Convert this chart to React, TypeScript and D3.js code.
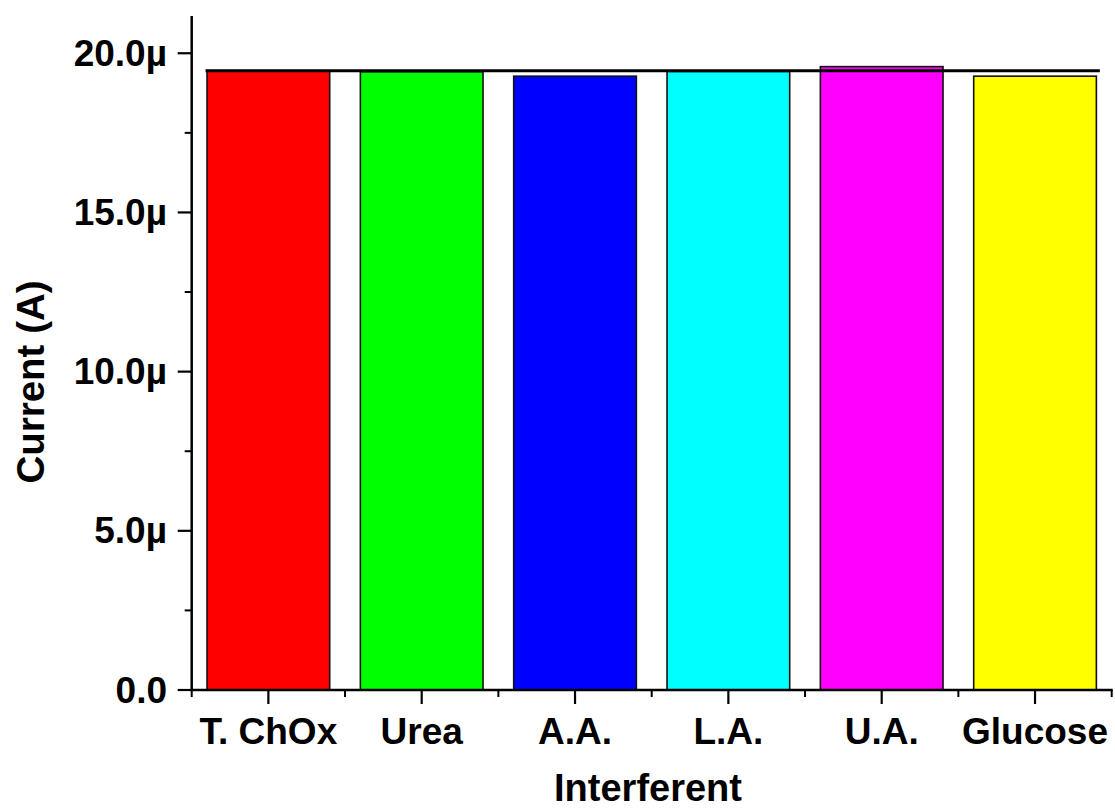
import React from 'react';
import * as d3 from 'd3';

// interferent study: response current for each species
const categories = ['T. ChOx', 'Urea', 'A.A.', 'L.A.', 'U.A.', 'Glucose'];
const currents = [19.45, 19.42, 19.28, 19.43, 19.58, 19.28]; // in µA
const barColors = ['#ff0000', '#00ff00', '#0000ff', '#00ffff', '#ff00ff', '#ffff00'];
const referenceCurrent = 19.45; // µA, baseline response line
const yMajorTicks = [0, 5, 10, 15, 20];
const yMinorTicks = [2.5, 7.5, 12.5, 17.5];
const yTickLabels = ['0.0', '5.0µ', '10.0µ', '15.0µ', '20.0µ'];

const width = 1115;
const height = 810;
const left = 191.7;
const right = 1111.7;
const top = 16;
const bottom = 690;

const App: React.FC = () => {
  const x = d3.scaleBand<string>()
    .domain(categories)
    .range([left, right])
    .paddingInner(0.2)
    .paddingOuter(0.1);

  const y = d3.scaleLinear()
    .domain([0, 21.17])
    .range([bottom, top]);

  const step = x.step();
  const bw = x.bandwidth();
  const font = '"Liberation Sans", Arial, sans-serif';

  // minor x ticks sit at category boundaries
  const boundaries = d3.range(categories.length + 1).map(i => left + i * step);

  const refX0 = (x(categories[0]) || 0) - 1.5;
  const refX1 = (x(categories[categories.length - 1]) || 0) + bw + 3.5;

  return (
    <svg
      width={width}
      height={height}
      style={{ position: 'absolute', left: 0, top: 0, background: '#fff' }}
      fontFamily={font}
      fontWeight="bold"
    >
      {/* bars */}
      {categories.map((c, i) => (
        <rect
          key={c}
          x={x(c)}
          y={y(currents[i])}
          width={bw}
          height={y(0) - y(currents[i])}
          fill={barColors[i]}
          stroke="#111"
          strokeWidth={1.6}
        />
      ))}

      {/* reference line */}
      <line
        x1={refX0}
        x2={refX1}
        y1={y(referenceCurrent)}
        y2={y(referenceCurrent)}
        stroke="#000"
        strokeWidth={3}
      />

      {/* y axis */}
      <line x1={left} x2={left} y1={top} y2={bottom + 1} stroke="#000" strokeWidth={2.5} />
      {yMajorTicks.map((t, i) => (
        <g key={'ym' + t}>
          <line x1={left - 14} x2={left} y1={y(t)} y2={y(t)} stroke="#000" strokeWidth={2.2} />
          <text
            x={167}
            y={y(t)}
            textAnchor="end"
            dominantBaseline="central"
            fontSize={37}
            fill="#000"
          >
            {yTickLabels[i]}
          </text>
        </g>
      ))}
      {yMinorTicks.map(t => (
        <line key={'yn' + t} x1={left - 7} x2={left} y1={y(t)} y2={y(t)} stroke="#000" strokeWidth={2} />
      ))}

      {/* x axis */}
      <line x1={left - 1} x2={right + 1} y1={bottom} y2={bottom} stroke="#000" strokeWidth={2.5} />
      {boundaries.map((b, i) => (
        <line key={'xb' + i} x1={b} x2={b} y1={bottom} y2={bottom + 7} stroke="#000" strokeWidth={2} />
      ))}
      {categories.map(c => {
        const cx = (x(c) || 0) + bw / 2;
        return (
          <g key={'xt' + c}>
            <line x1={cx} x2={cx} y1={bottom} y2={bottom + 14} stroke="#000" strokeWidth={2.2} />
            <text x={cx} y={744} textAnchor="middle" fontSize={37} fill="#000">
              {c}
            </text>
          </g>
        );
      })}

      {/* axis titles */}
      <text x={648} y={801} textAnchor="middle" fontSize={38} fill="#000">
        Interferent
      </text>
      <text
        transform="translate(44,382) rotate(-90)"
        textAnchor="middle"
        fontSize={38.5}
        fill="#000"
      >
        Current (A)
      </text>
    </svg>
  );
};

export default App;
